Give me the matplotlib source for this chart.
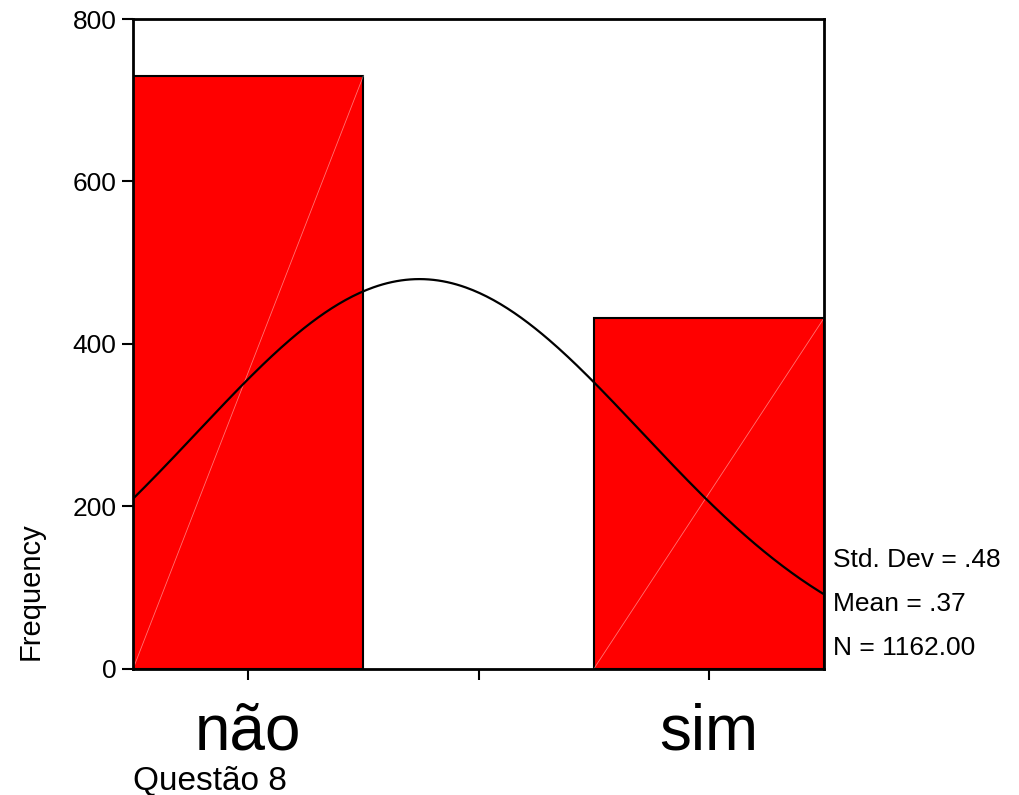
import numpy as np
import matplotlib
matplotlib.use("Agg")
import matplotlib.pyplot as plt

plt.rcParams['font.family'] = ['Liberation Sans', 'DejaVu Sans']

# Dados (Questão 8)
categorias = ["não", "sim"]
codigos = [0, 1]
frequencias = [730, 432]

N = sum(frequencias)
media = 0.37
desvio = 0.48
largura = 0.5

fig = plt.figure(figsize=(10.2, 7.95), dpi=100)
ax = fig.add_axes([0.1304, 0.1585, 0.6775, 0.8176])

ax.bar(codigos, frequencias, width=largura, color='#ff0000',
       edgecolor='black', linewidth=1.5, zorder=2)

# linhas diagonais finas dentro das barras (artefato do original)
for c, f in zip(codigos, frequencias):
    ax.plot([c - largura / 2, c + largura / 2], [0, f], color='white',
            linewidth=0.6, alpha=0.45, zorder=3)

# curva normal ajustada
x = np.linspace(-0.25, 1.25, 300)
dp = np.sqrt(media * (1 - media) * N / (N - 1))
mu = frequencias[1] / N
y = N * largura / (dp * np.sqrt(2 * np.pi)) * np.exp(-0.5 * ((x - mu) / dp) ** 2)
ax.plot(x, y, color='black', linewidth=1.6, zorder=4)

ax.set_xlim(-0.25, 1.25)
ax.set_ylim(0, 800)
ax.set_yticks([0, 200, 400, 600, 800])
ax.tick_params(axis='y', labelsize=19, length=8, width=1.5, direction='out', pad=4)
ax.set_xticks([0, 0.5, 1])
ax.set_xticklabels([categorias[0], "", categorias[1]])
ax.tick_params(axis='x', labelsize=46, length=8, width=1.5, direction='out', pad=16)

for s in ax.spines.values():
    s.set_linewidth(2)
    s.set_zorder(5)

ax.set_ylabel("Frequency", fontsize=21)
ax.yaxis.set_label_coords(-0.128, 0.12)

fig.text(133 / 1020, 1 - 781 / 795, "Questão 8", fontsize=24, va='center', ha='left')

stats = ["Std. Dev = .48", "Mean = .37", "N = 1162.00"]
for i, t in enumerate(stats):
    fig.text(833 / 1020, 1 - (560 + i * 44) / 795, t, fontsize=19,
             va='center', ha='left')

fig.savefig("out.png", dpi=100)
